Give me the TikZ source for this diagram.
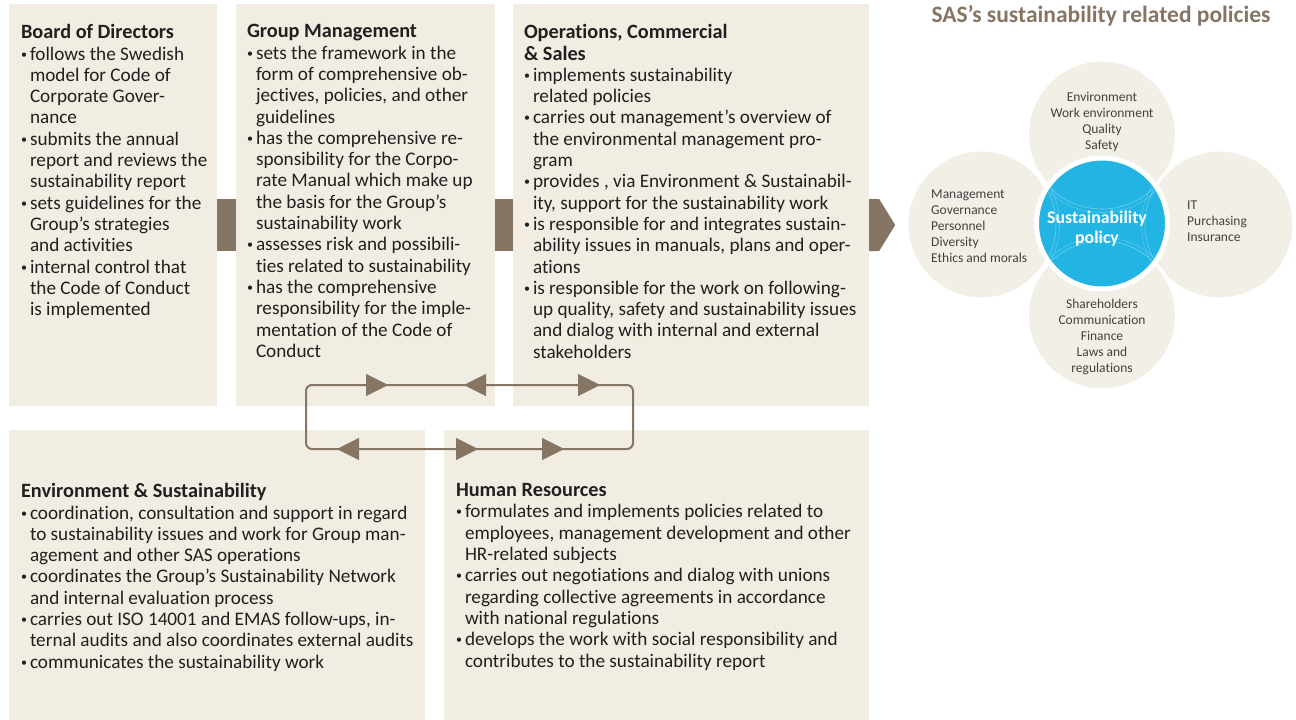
\documentclass[tikz,border=0pt]{standalone}
\usepackage{fontspec}
\setmainfont{Carlito}[Ligatures={NoCommon}]
\usetikzlibrary{positioning,arrows.meta,decorations.markings}

\definecolor{boxbg}{RGB}{241,237,226}
\definecolor{barcol}{RGB}{135,117,99}
\definecolor{petalbg}{RGB}{242,239,230}
\definecolor{hubblue}{RGB}{34,180,227}
\definecolor{bodytext}{RGB}{35,31,32}

% bullet, hanging indent and heading for the list blocks
\newcommand{\bul}{\makebox[9pt][l]{\raisebox{2pt}{\fontsize{12}{12}\selectfont\textbullet}}}
\newcommand{\hang}{\hspace*{9pt}}
\newcommand{\hd}[1]{{\fontsize{20.3}{21.3}\selectfont\bfseries #1}}

\tikzset{looptip/.tip={Triangle[length=22pt,width=22pt]}}

\begin{document}
\begin{tikzpicture}[x=1pt,y=-1pt,
    box/.style={rectangle,fill=boxbg,inner sep=0pt},
    txt/.style={anchor=north west,align=left,inner sep=0pt,text=bodytext,
                font=\fontsize{19.2}{21.3}\selectfont},
    bar/.style={draw=barcol,line width=52pt},
    cycleline/.style={draw=barcol,line width=2pt,rounded corners=6pt},
    petal/.style={circle,fill=petalbg,draw=white,line width=3pt,minimum size=149pt,inner sep=0pt},
    ptxt/.style={inner sep=0pt,text=bodytext!85,font=\fontsize{13.5}{16}\selectfont}]

    \useasboundingbox (0,0) rectangle (1296,720);

    % responsibility boxes
    \node at (113,205)   (board) [box,minimum width=208pt,minimum height=402pt] {};
    \node at (365.5,205) (group) [box,minimum width=259pt,minimum height=402pt] {};
    \node at (691,205)   (ops)   [box,minimum width=356pt,minimum height=402pt] {};
    \node at (217,575)   (env)   [box,minimum width=416pt,minimum height=290pt] {};
    \node at (656.5,575) (hr)    [box,minimum width=425pt,minimum height=290pt] {};

    \node at ([shift={(12,20.5)}]board.north west) (boardtxt) [txt] {%
        \hd{Board of Directors}\\
        \bul follows the Swedish\\
        \hang model for Code of\\
        \hang Corporate Gover-\\
        \hang nance\\
        \bul submits the annual\\
        \hang report and reviews the\\
        \hang sustainability report\\
        \bul sets guidelines for the\\
        \hang Group’s strategies\\
        \hang and activities\\
        \bul internal control that\\
        \hang the Code of Conduct\\
        \hang is implemented};

    \node at ([shift={(11,20.5)}]group.north west) (grouptxt) [txt] {%
        \hd{Group Management}\\
        \bul sets the framework in the\\
        \hang form of comprehensive ob-\\
        \hang jectives, policies, and other\\
        \hang guidelines\\
        \bul has the comprehensive re-\\
        \hang sponsibility for the Corpo-\\
        \hang rate Manual which make up\\
        \hang the basis for the Group’s\\
        \hang sustainability work\\
        \bul assesses risk and possibili-\\
        \hang ties related to sustainability\\
        \bul has the comprehensive\\
        \hang responsibility for the imple-\\
        \hang mentation of the Code of\\
        \hang Conduct};

    \node at ([shift={(11,20.5)}]ops.north west) (opstxt) [txt] {%
        \hd{Operations, Commercial}\\
        \hd{\& Sales}\\
        \bul implements sustainability\\
        \hang related policies\\
        \bul carries out management’s overview of\\
        \hang the environmental management pro-\\
        \hang gram\\
        \bul provides , via Environment \& Sustainabil-\\
        \hang ity, support for the sustainability work\\
        \bul is responsible for and integrates sustain-\\
        \hang ability issues in manuals, plans and oper-\\
        \hang ations\\
        \bul is responsible for the work on following-\\
        \hang up quality, safety and sustainability issues\\
        \hang and dialog with internal and external\\
        \hang stakeholders};

    \node at ([shift={(12,53.5)}]env.north west) (envtxt) [txt] {%
        \hd{Environment \& Sustainability}\\
        \bul coordination, consultation and support in regard\\
        \hang to sustainability issues and work for Group man-\\
        \hang agement and other SAS operations\\
        \bul coordinates the Group’s Sustainability Network\\
        \hang and internal evaluation process\\
        \bul carries out ISO 14001 and EMAS follow-ups, in-\\
        \hang ternal audits and also coordinates external audits\\
        \bul communicates the sustainability work};

    \node at ([shift={(12,53.5)}]hr.north west) (hrtxt) [txt] {%
        \hd{Human Resources}\\
        \bul formulates and implements policies related to\\
        \hang employees, management development and other\\
        \hang HR-related subjects\\
        \bul carries out negotiations and dialog with unions\\
        \hang regarding collective agreements in accordance\\
        \hang with national regulations\\
        \bul develops the work with social responsibility and\\
        \hang contributes to the sustainability report};

    % bars between the top boxes
    \draw [bar] ([shift={(0,20)}]board.east) -- ([shift={(0,20)}]group.west);
    \draw [bar] ([shift={(0,20)}]group.east) -- ([shift={(0,20)}]ops.west);
    \fill [barcol] ([shift={(0,-6)}]ops.east) -- ++(10,0) -- ++(16,26)
        -- ++(-16,26) -- ++(-10,0) -- cycle;

    % cooperation loop
    \coordinate (lp-nw) at (306,385);
    \coordinate (lp-ne) at (633,385);
    \coordinate (lp-se) at (633,449);
    \coordinate (lp-sw) at (306,449);
    \draw [cycleline] (lp-nw) -- (lp-ne) -- (lp-se) -- (lp-sw) -- cycle;
    \path [decorate,decoration={markings,
        mark=at position 82pt with {\arrow[barcol]{looptip}},
        mark=at position 158pt with {\arrowreversed[barcol]{looptip}},
        mark=at position 294pt with {\arrow[barcol]{looptip}}}]
        (lp-nw) -- (lp-ne);
    \path [decorate,decoration={markings,
        mark=at position 31pt with {\arrowreversed[barcol]{looptip}},
        mark=at position 172pt with {\arrow[barcol]{looptip}},
        mark=at position 258pt with {\arrow[barcol]{looptip}}}]
        (lp-sw) -- (lp-se);

    % policy flower
    \node at (1101,23) (title) [anchor=base,text=barcol,
        font=\fontsize{23.5}{26}\selectfont\bfseries] {SAS’s sustainability related policies};

    \node at (1102,134.5)  (ptop)    [petal] {};
    \node at (981.5,224.5) (pleft)   [petal] {};
    \node at (1219.5,224.5) (pright) [petal] {};
    \node at (1102,315.5)  (pbottom) [petal] {};
    \node at (1102,223.5)  (hub) [circle,fill=hubblue,draw=white,line width=5pt,
        minimum size=131pt,inner sep=0pt] {};

    % faint petal outlines seen through the hub
    \begin{scope}
        \clip (hub.center) circle (62);
        \foreach \p in {ptop,pleft,pright,pbottom} {
            \draw [white,opacity=0.35,line width=0.6pt] (\p.center) circle (74.5);
            \draw [white,opacity=0.25,line width=0.6pt] (\p.center) circle (78);
        }
    \end{scope}

    \node at (1102,121.5) (ptoptxt) [ptxt,align=center]
        {Environment\\Work environment\\Quality\\Safety};
    \node at (931,226) (plefttxt) [ptxt,align=left,anchor=west]
        {Management\\Governance\\Personnel\\Diversity\\Ethics and morals};
    \node at (1187,221) (prighttxt) [ptxt,align=left,anchor=west]
        {IT\\Purchasing\\Insurance};
    \node at (1102,337) (pbottomtxt) [ptxt,align=center]
        {Shareholders\\Communication\\Finance\\Laws and\\regulations};
    \node at (1097,229) (hubtxt) [inner sep=0pt,align=center,text=white,
        font=\fontsize{17.8}{20}\selectfont\bfseries] {Sustainability\\policy};
\end{tikzpicture}
\end{document}
